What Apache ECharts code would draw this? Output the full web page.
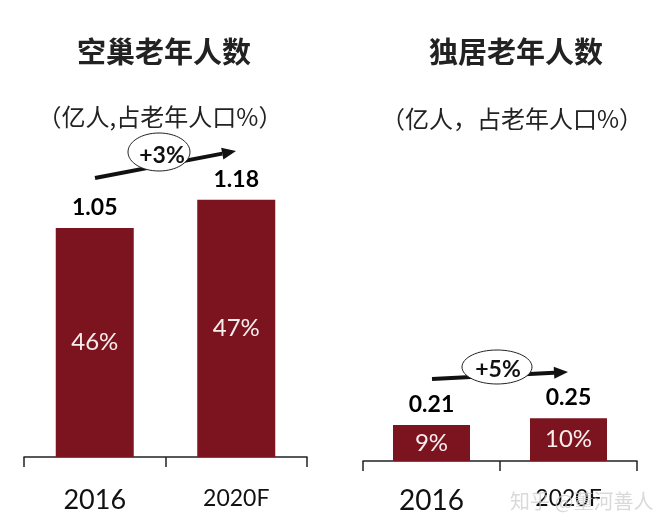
<!DOCTYPE html>
<html>
<head>
<meta charset="utf-8">
<script src="https://cdn.jsdelivr.net/npm/echarts@6/dist/echarts.min.js"></script>
<style>html,body{margin:0;padding:0;background:#fff;}#c{width:669px;height:530px;}</style>
</head>
<body>
<div id="c"></div>
<script>
// ---- data ----
const categories = ['2016', '2020F'];
const emptyNestValues = [1.05, 1.18];     // 空巢老年人数 (亿人)
const emptyNestShares = [46, 47];         // 占老年人口 %
const aloneValues = [0.21, 0.25];         // 独居老年人数 (亿人)
const aloneShares = [9, 10];              // 占老年人口 %
const emptyNestGrowth = '+3%';
const aloneGrowth = '+5%';
const leftTitle = '空巢老年人数';
const leftSub = '（亿人,占老年人口%）';
const rightTitle = '独居老年人数';
const rightSub = '（亿人，占老年人口%）';
const watermark = '知乎 @董河善人';

const BAR = '#7C1420';
const CJK = '"Noto Sans CJK SC", sans-serif';
const NUM = 'Lato, "Open Sans", sans-serif';

function catData(sizes) {
  return categories.map((c, i) => ({ value: c, textStyle: { fontSize: sizes[i] } }));
}
function xAxisCfg(grid, margin, sizes) {
  return {
    type: 'category', gridIndex: grid, data: catData(sizes),
    axisLine: { lineStyle: { color: '#222', width: 1.5 } },
    axisTick: { show: true, length: 10, lineStyle: { color: '#222', width: 1.5 } },
    axisLabel: { color: '#111', fontFamily: NUM, margin: margin, verticalAlign: 'top' }
  };
}
function valueSeries(axis, values, width) {
  return {
    type: 'bar', xAxisIndex: axis, yAxisIndex: axis, data: values, barWidth: width,
    itemStyle: { color: BAR },
    label: { show: true, position: 'top', distance: 9, color: '#000', fontFamily: NUM,
      fontWeight: 'bold', fontSize: 23, formatter: p => p.value.toFixed(2) }
  };
}
function shareSeries(axis, values, shares, width) {
  return {
    type: 'bar', xAxisIndex: axis, yAxisIndex: axis, data: values, barWidth: width,
    barGap: '-100%', itemStyle: { color: 'rgba(0,0,0,0)' }, silent: true,
    label: { show: true, position: 'inside', color: '#f7eded', fontFamily: NUM,
      fontSize: 24, formatter: p => shares[p.dataIndex] + '%' }
  };
}
function arrow(x1, y1, x2, y2) {
  const dx = x2 - x1, dy = y2 - y1, L = Math.hypot(dx, dy);
  const ux = dx / L, uy = dy / L, hl = 14, hw = 6;
  const bx = x2 - ux * hl, by = y2 - uy * hl;
  return [
    { type: 'line', shape: { x1: x1, y1: y1, x2: bx, y2: by }, style: { stroke: '#111', lineWidth: 4 }, z: 10 },
    { type: 'polygon', shape: { points: [[x2, y2], [bx - uy * hw, by + ux * hw], [bx + uy * hw, by - ux * hw]] },
      style: { fill: '#111' }, z: 10 }
  ];
}
function bubble(cx, cy, rx, ry, text, tx, ty) {
  return [
    { type: 'ellipse', shape: { cx: cx, cy: cy, rx: rx, ry: ry }, style: { fill: '#fff', stroke: '#222', lineWidth: 1 }, z: 11 },
    { type: 'text', x: tx, y: ty, style: { text: text, fill: '#111', font: 'bold 23px ' + NUM, align: 'center', verticalAlign: 'middle' }, z: 12 }
  ];
}
function label(x, y, text, font) {
  return { type: 'text', x: x, y: y, style: { text: text, fill: '#222', font: font, align: 'center', verticalAlign: 'middle' }, z: 5 };
}

const chart = echarts.init(document.getElementById('c'), null, { renderer: 'canvas' });
chart.setOption({
  backgroundColor: '#fff',
  animation: false,
  grid: [
    { left: 24, top: 130, width: 283, height: 327 },
    { left: 363, top: 118, width: 274, height: 343 }
  ],
  xAxis: [xAxisCfg(0, 30, [27, 23]), xAxisCfg(1, 26, [28, 23])],
  yAxis: [
    { type: 'value', gridIndex: 0, min: 0, max: 1.5, show: false },
    { type: 'value', gridIndex: 1, min: 0, max: 2, show: false }
  ],
  series: [
    valueSeries(0, emptyNestValues, 78),
    shareSeries(0, emptyNestValues, emptyNestShares, 78),
    valueSeries(1, aloneValues, 77),
    shareSeries(1, aloneValues, aloneShares, 77)
  ],
  graphic: [
    label(164, 52, leftTitle, 'bold 29px ' + CJK),
    label(160, 117, leftSub, '24px ' + CJK),
    label(516, 52, rightTitle, 'bold 29px ' + CJK),
    label(512, 119, rightSub, '24px ' + CJK),
    ...arrow(95, 178, 236, 151),
    ...bubble(159, 152, 31, 19, emptyNestGrowth, 162, 156),
    ...arrow(432, 379, 568, 372),
    ...bubble(497, 367, 35, 17, aloneGrowth, 498, 370),
    { type: 'text', x: 510, y: 501, style: { text: watermark, fill: 'rgba(205,205,205,0.75)', font: '20px ' + CJK, verticalAlign: 'middle' }, z: 100 }
  ]
});
</script>
</body>
</html>
